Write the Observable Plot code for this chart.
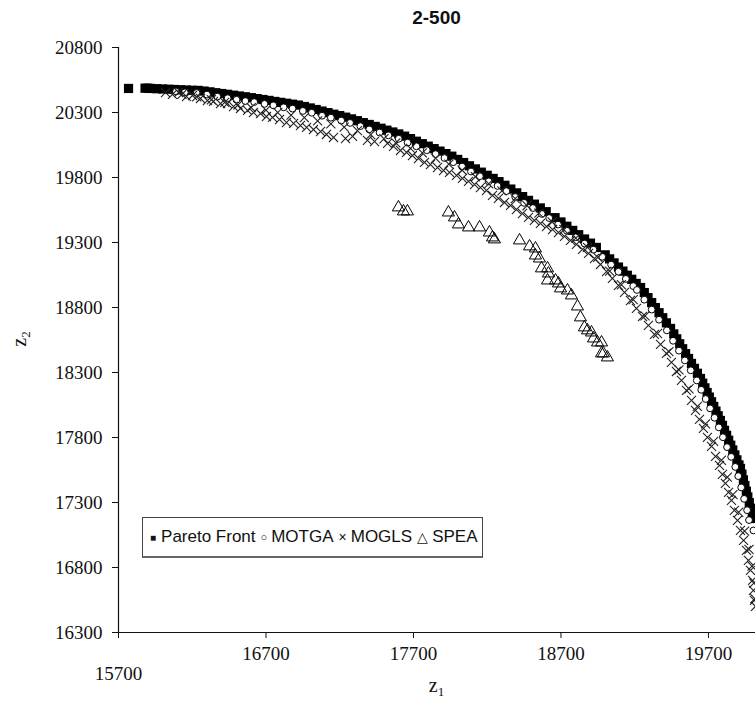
<!DOCTYPE html>
<html><head><meta charset="utf-8">
<script src="https://cdn.jsdelivr.net/npm/d3@7"></script>
<script src="https://cdn.jsdelivr.net/npm/@observablehq/plot@0.6"></script>
<style>
body{margin:0;background:#fff;}
#wrap{position:relative;width:755px;height:703px;overflow:hidden;background:#fff}
#title{position:absolute;left:118px;width:637px;top:7px;text-align:center;font:bold 19px 'Liberation Sans',Arial,sans-serif;color:#111}
#xlab{position:absolute;left:118px;width:637px;top:674px;text-align:center;font:20px 'Liberation Serif','Times New Roman',serif;color:#111}
#ylab{position:absolute;left:6px;top:326px;width:30px;text-align:center;transform:rotate(-90deg);font:20px 'Liberation Serif','Times New Roman',serif;color:#111}
sub{font-size:13px;vertical-align:-4px}
#legend{position:absolute;left:142px;top:517px;width:341px;height:41px;border:1px solid #444;border-bottom:2px solid #666;background:#fff;box-sizing:border-box;font:17px 'Liberation Sans',Arial,sans-serif;color:#111;display:flex;align-items:center;padding-left:7px;white-space:nowrap}
#legend .s{font-size:10px;margin-right:5px}
#legend .c{font-size:11px;margin:0 4px 0 5px}
#legend .t{font-size:14px;margin:0 4px 0 5px}
</style></head><body>
<div id="wrap">
<div id="title">2-500</div>
<div id="xlab">z<sub>1</sub></div>
<div id="ylab">z<sub>2</sub></div>
</div>
<script>
// Tick values
const xTicks = [15700, 16700, 17700, 18700, 19700];
const yTicks = [16300, 16800, 17300, 17800, 18300, 18800, 19300, 19800, 20300, 20800];

// Pareto Front
const paretoX = [15768,15880,15900,15920,15960,16000,16040,16080,16120,16160,16200,16240,16280,16320,16360,16400,16440,16480,16520,16560,16600,16640,16680,16720,16760,16800,16840,16880,16920,16960,17000,17040,17080,17120,17160,17200,17240,17280,17320,17360,17400,17440,17480,17520,17560,17600,17640,17680,17720,17760,17800,17840,17880,17920,17960,18000,18040,18080,18120,18160,18200,18240,18280,18320,18360,18400,18440,18480,18520,18560,18600,18660,18700,18740,18780,18820,18860,18900,18940,19000,19030,19060,19090,19120,19150,19180,19210,19240,19265,19290,19315,19340,19365,19390,19415,19443,19465,19485,19505,19525,19545,19565,19585,19605,19625,19646,19661,19676,19691,19706,19721,19736,19751,19766,19781,19795,19809,19823,19837,19851,19865,19879,19893,19907,19917,19927,19937,19947,19957,19967,19977,19987,19997,20005];
const paretoY = [20485,20487,20487,20485,20483,20481,20479,20477,20475,20473,20471,20470,20465,20459,20452,20446,20440,20433,20427,20421,20414,20407,20400,20393,20385,20378,20371,20364,20357,20346,20335,20323,20311,20299,20287,20276,20264,20251,20237,20222,20208,20193,20179,20164,20150,20135,20118,20099,20079,20060,20041,20022,20003,19984,19964,19939,19915,19890,19866,19841,19817,19793,19768,19740,19711,19682,19653,19624,19595,19566,19537,19491,19458,19425,19393,19360,19327,19295,19262,19205,19174,19143,19111,19080,19048,19017,18985,18954,18915,18876,18838,18799,18760,18721,18682,18639,18597,18559,18521,18483,18445,18408,18370,18332,18294,18254,18218,18182,18146,18111,18075,18039,18003,17967,17931,17893,17855,17817,17779,17741,17704,17666,17628,17589,17562,17518,17474,17431,17387,17343,17299,17256,17212,17177];

// MOTGA
const motgaX = [16090,16150,16230,16300,16370,16440,16500,16560,16620,16690,16750,16820,16880,16950,17010,17080,17140,17210,17270,17340,17400,17470,17530,17600,17660,17720,17790,17850,17910,17970,18030,18090,18150,18210,18270,18330,18390,18450,18510,18570,18620,18680,18740,18800,18860,18920,18980,19040,19090,19140,19190,19215,19265,19315,19365,19418,19460,19500,19540,19580,19621,19651,19681,19711,19741,19770,19798,19826,19854,19882,19902,19922,19942,19962,19975,20005];
const motgaY = [20462,20455,20450,20438,20422,20410,20398,20388,20380,20366,20355,20340,20330,20312,20298,20275,20260,20238,20220,20195,20170,20146,20124,20098,20068,20040,20010,19980,19950,19918,19884,19846,19810,19770,19735,19695,19650,19605,19565,19520,19488,19438,19390,19340,19292,19245,19190,19130,19075,19020,18965,18935,18860,18784,18706,18624,18544,18468,18393,18317,18239,18167,18096,18024,17952,17878,17802,17726,17651,17574,17503,17416,17328,17241,17165,17085];

// MOGLS
const moglsX = [16019,16066,16107,16161,16202,16256,16303,16344,16392,16439,16480,16527,16575,16615,16663,16703,16744,16792,16839,16887,16934,16975,17022,17070,17110,17158,17239,17287,17388,17436,17524,17565,17612,17653,17693,17734,17775,17815,17863,17904,17944,17992,18032,18073,18114,18154,18195,18236,18276,18317,18358,18398,18439,18480,18520,18561,18602,18643,18683,18724,18765,18805,18846,18887,18927,18968,19009,19049,19090,19131,19171,19212,19253,19293,19334,19375,19415,19449,19483,19517,19551,19585,19612,19639,19666,19693,19721,19748,19775,19795,19815,19836,19856,19876,19897,19917,19938,19958,19971,19985,19999,20005,20012,20019,
  16130,16230,16330,16420,16510,16600,16700,16780,16870,16960,17050,17140,17230,17320,17410,17500,17580,17680,17760,17850,17940,18030,18120,18210,18300,18390,18470,18550,18640,18720,18800,18880,18950,
  19030,19110,19190,19270,19355,19432,19500,19568,19625,19680,19735,19788,19828,19866,19905,19945,19975,19995,20008,20015];
const moglsY = [20454,20439,20454,20423,20431,20408,20392,20385,20369,20369,20346,20331,20316,20300,20292,20269,20262,20246,20223,20216,20200,20185,20169,20154,20131,20108,20100,20116,20085,20077,20062,20039,20008,19993,19969,19946,19916,19900,19877,19854,19839,19816,19793,19770,19746,19723,19700,19662,19639,19608,19585,19554,19523,19493,19470,19447,19423,19400,19377,19347,19316,19285,19247,19216,19177,19131,19077,19024,18970,18916,18854,18793,18731,18662,18593,18516,18447,18378,18308,18239,18162,18085,18009,17939,17870,17801,17732,17655,17586,17516,17447,17378,17316,17240,17163,17086,17009,16932,16855,16778,16701,16624,16547,16501,
  20440,20420,20398,20378,20358,20338,20318,20300,20280,20260,20236,20212,20188,20160,20130,20098,20066,20024,19990,19948,19903,19856,19806,19752,19697,19638,19583,19526,19458,19398,19334,19262,19185,
  19080,18975,18860,18735,18600,18460,18320,18175,18040,17905,17770,17625,17495,17360,17225,17080,16940,16810,16680,16560];

// SPEA
const speaX = [17598,17632,17659,17937,17978,18005,18073,18148,18215,18236,18249,18419,18487,18527,18527,18554,18568,18609,18615,18609,18663,18683,18697,18744,18771,18812,18832,18859,18880,18907,18921,18948,18975,18975,18988,19015];
const speaY = [19570,19539,19539,19531,19493,19439,19416,19416,19377,19339,19324,19316,19270,19254,19200,19177,19101,19101,19062,19008,19008,18985,18947,18931,18893,18808,18724,18647,18624,18608,18562,18531,18531,18447,18447,18416];

const pts = (xs, ys) => xs.map((x, i) => ({x, y: ys[i]}));
const pareto = pts(paretoX, paretoY);
const motga = pts(motgaX, motgaY);
const mogls = pts(moglsX, moglsY);
const spea = pts(speaX, speaY);

const chart = Plot.plot({
  width: 755, height: 703,
  marginLeft: 118, marginRight: 0, marginTop: 47, marginBottom: 71,
  x: {domain: [15700, 20019]},
  y: {domain: [16300, 20800]},
  style: {background: "transparent", fontFamily: "'Liberation Serif','Times New Roman',serif", fontSize: "19px", color: "#111", overflow: "hidden"},
  marks: [
    Plot.ruleX([15700], {stroke: "#111", strokeWidth: 1.2}),
    Plot.ruleY([16300], {stroke: "#111", strokeWidth: 1.2}),
    Plot.axisY(yTicks, {tickSize: 6, tickPadding: 10, label: null, tickFormat: d => String(d), fontSize: 19}),
    Plot.axisX(xTicks.slice(1), {tickSize: 6, tickPadding: 8, label: null, tickFormat: d => String(d), fontSize: 19}),
    Plot.axisX(xTicks.slice(0, 1), {tickSize: 6, tickPadding: 28, label: null, tickFormat: d => String(d), fontSize: 19}),
    Plot.dot(pareto, {x: "x", y: "y", symbol: "square", r: 5.2, fill: "#000", stroke: "none"}),
    Plot.dot(motga, {x: "x", y: "y", symbol: "circle", r: 3.4, fill: "#fff", stroke: "#000", strokeWidth: 1}),
    Plot.dot(mogls, {x: "x", y: "y", symbol: "times", r: 4.2, stroke: "#222", strokeWidth: 1.1}),
    Plot.dot(spea, {x: "x", y: "y", symbol: "triangle", r: 4.5, fill: "none", stroke: "#000", strokeWidth: 1})
  ]
});
chart.style.position = "absolute";
chart.style.left = "0px";
chart.style.top = "0px";
const wrap = document.getElementById("wrap");
wrap.insertBefore(chart, wrap.firstChild);

const legend = document.createElement("div");
legend.id = "legend";
legend.innerHTML = '<span class="s">■</span>Pareto Front<span class="c">○</span>MOTGA<span class="t">×</span>MOGLS<span class="t">△</span>SPEA';
wrap.appendChild(legend);
</script>
</body></html>
